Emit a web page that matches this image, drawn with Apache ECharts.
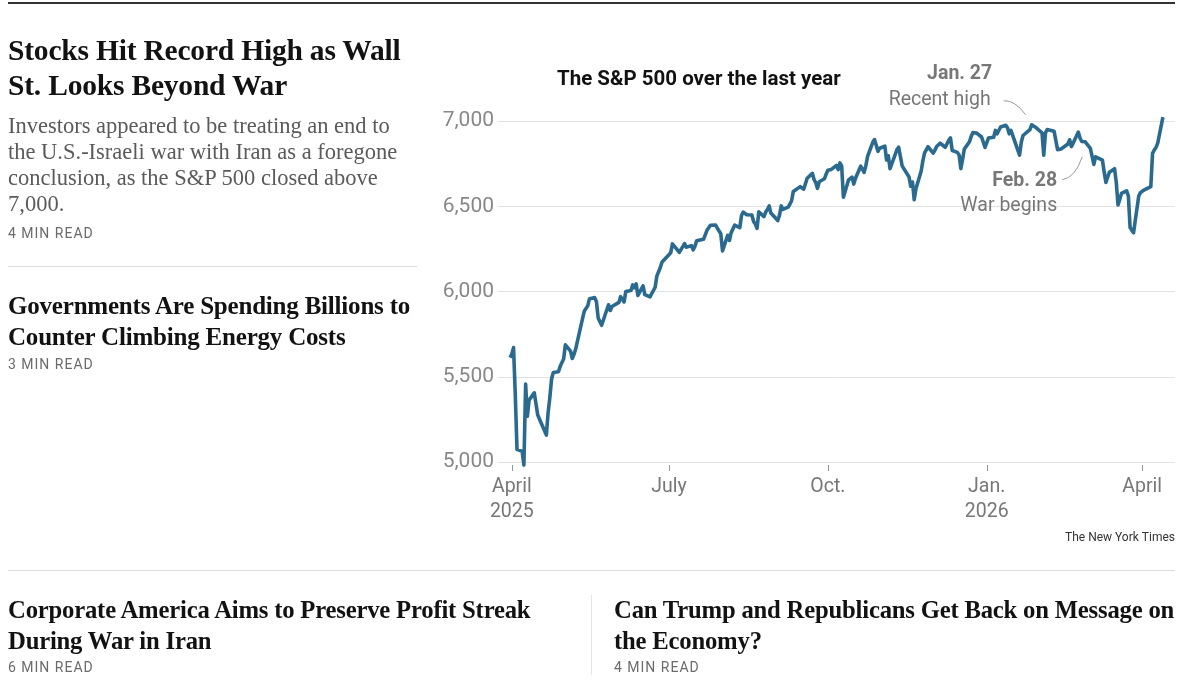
<!DOCTYPE html>
<html>
<head>
<meta charset="utf-8">
<script src="https://cdn.jsdelivr.net/npm/echarts@6/dist/echarts.min.js"></script>
<style>
  html, body { margin: 0; padding: 0; background: #fff; }
  #page { position: relative; width: 1200px; height: 699px; overflow: hidden; }
  #chart { position: absolute; left: 0; top: 0; width: 1200px; height: 699px; }
  .t { position: absolute; white-space: nowrap; pointer-events: none; }
  .hed { font-family: "Liberation Serif", "DejaVu Serif", serif; font-weight: bold; color: #121212; }
  .big { font-size: 29.5px; line-height: 35px; letter-spacing: -0.2px; }
  .mid { font-size: 25px; line-height: 31px; letter-spacing: -0.2px; }
  .mid2 { font-size: 24.7px; line-height: 31px; letter-spacing: -0.2px; }
  .sum { font-family: "Liberation Serif", serif; font-size: 22.5px; line-height: 26px; color: #5a5a5a; }
  .read { font-family: Roboto, "Liberation Sans", sans-serif; font-size: 14px; line-height: 16px; letter-spacing: 1px; color: #6b6b6b; }
  .rule { position: absolute; pointer-events: none; }
</style>
</head>
<body>
<div id="page">
  <div id="chart"></div>

  <div class="rule" style="left:8px;top:2px;width:1167px;height:1.5px;background:#333;"></div>

  <div class="t hed big" style="left:8px;top:33px;">Stocks Hit Record High as Wall<br>St. Looks Beyond War</div>
  <div class="t sum" style="left:8px;top:113px;">Investors appeared to be treating an end to<br>the U.S.-Israeli war with Iran as a foregone<br>conclusion, as the S&amp;P 500 closed above<br>7,000.</div>
  <div class="t read" style="left:8px;top:225px;">4 MIN READ</div>

  <div class="rule" style="left:8px;top:266px;width:409px;height:1px;background:#dcdcdc;"></div>

  <div class="t hed mid" style="left:8px;top:290px;">Governments Are Spending Billions to<br>Counter Climbing Energy Costs</div>
  <div class="t read" style="left:8px;top:356px;">3 MIN READ</div>

  <div class="rule" style="left:8px;top:570px;width:1167px;height:1px;background:#dcdcdc;"></div>
  <div class="rule" style="left:591px;top:595px;width:1px;height:80px;background:#e4e4e4;"></div>

  <div class="t hed mid2" style="left:8px;top:594px;">Corporate America Aims to Preserve Profit Streak<br>During War in Iran</div>
  <div class="t read" style="left:8px;top:659px;">6 MIN READ</div>

  <div class="t hed mid2" style="left:614px;top:594px;">Can Trump and Republicans Get Back on Message on<br>the Economy?</div>
  <div class="t read" style="left:614px;top:659px;">4 MIN READ</div>
</div>

<script>
// S&P 500 daily closes
var dates = [
  '2025-03-31','2025-04-01','2025-04-02','2025-04-03','2025-04-04','2025-04-07','2025-04-08','2025-04-09','2025-04-10','2025-04-11',
  '2025-04-14','2025-04-15','2025-04-16','2025-04-17','2025-04-21','2025-04-22','2025-04-23','2025-04-24','2025-04-25',
  '2025-04-28','2025-04-29','2025-04-30','2025-05-01','2025-05-02','2025-05-05','2025-05-06','2025-05-07','2025-05-08','2025-05-09',
  '2025-05-12','2025-05-13','2025-05-14','2025-05-15','2025-05-16','2025-05-19','2025-05-20','2025-05-21','2025-05-22','2025-05-23',
  '2025-05-27','2025-05-28','2025-05-29','2025-05-30','2025-06-02','2025-06-03','2025-06-04','2025-06-05','2025-06-06',
  '2025-06-09','2025-06-10','2025-06-11','2025-06-12','2025-06-13','2025-06-16','2025-06-17','2025-06-18','2025-06-20',
  '2025-06-23','2025-06-24','2025-06-25','2025-06-26','2025-06-27','2025-06-30','2025-07-01','2025-07-02','2025-07-03',
  '2025-07-07','2025-07-08','2025-07-09','2025-07-10','2025-07-11','2025-07-14','2025-07-15','2025-07-16','2025-07-17','2025-07-18',
  '2025-07-21','2025-07-22','2025-07-23','2025-07-24','2025-07-25','2025-07-28','2025-07-29','2025-07-30','2025-07-31','2025-08-01',
  '2025-08-04','2025-08-05','2025-08-06','2025-08-07','2025-08-08','2025-08-11','2025-08-12','2025-08-13','2025-08-14','2025-08-15',
  '2025-08-18','2025-08-19','2025-08-20','2025-08-21','2025-08-22','2025-08-25','2025-08-26','2025-08-27','2025-08-28','2025-08-29',
  '2025-09-02','2025-09-03','2025-09-04','2025-09-05','2025-09-08','2025-09-09','2025-09-10','2025-09-11','2025-09-12',
  '2025-09-15','2025-09-16','2025-09-17','2025-09-18','2025-09-19','2025-09-22','2025-09-23','2025-09-24','2025-09-25','2025-09-26',
  '2025-09-29','2025-09-30','2025-10-01','2025-10-02','2025-10-03','2025-10-06','2025-10-07','2025-10-08','2025-10-09','2025-10-10',
  '2025-10-13','2025-10-14','2025-10-15','2025-10-16','2025-10-17','2025-10-20','2025-10-21','2025-10-22','2025-10-23','2025-10-24',
  '2025-10-27','2025-10-28','2025-10-29','2025-10-30','2025-10-31','2025-11-03','2025-11-04','2025-11-05','2025-11-06','2025-11-07',
  '2025-11-10','2025-11-11','2025-11-12','2025-11-13','2025-11-14','2025-11-17','2025-11-18','2025-11-19','2025-11-20','2025-11-21',
  '2025-11-24','2025-11-25','2025-11-26','2025-11-28','2025-12-01','2025-12-02','2025-12-03','2025-12-04','2025-12-05',
  '2025-12-08','2025-12-09','2025-12-10','2025-12-11','2025-12-12','2025-12-15','2025-12-16','2025-12-17','2025-12-18','2025-12-19',
  '2025-12-22','2025-12-23','2025-12-24','2025-12-26','2025-12-29','2025-12-30','2025-12-31',
  '2026-01-02','2026-01-05','2026-01-06','2026-01-07','2026-01-08','2026-01-09','2026-01-12','2026-01-13','2026-01-14','2026-01-15','2026-01-16',
  '2026-01-20','2026-01-21','2026-01-22','2026-01-23','2026-01-26','2026-01-27','2026-01-28','2026-01-29','2026-01-30',
  '2026-02-02','2026-02-03','2026-02-04','2026-02-05','2026-02-06','2026-02-09','2026-02-10','2026-02-11','2026-02-12','2026-02-13',
  '2026-02-17','2026-02-18','2026-02-19','2026-02-20','2026-02-23','2026-02-24','2026-02-25','2026-02-26','2026-02-27',
  '2026-03-02','2026-03-03','2026-03-04','2026-03-05','2026-03-06','2026-03-09','2026-03-10','2026-03-11','2026-03-12','2026-03-13',
  '2026-03-16','2026-03-17','2026-03-18','2026-03-19','2026-03-20','2026-03-23','2026-03-24','2026-03-25','2026-03-26','2026-03-27',
  '2026-03-30','2026-03-31','2026-04-01','2026-04-02','2026-04-06','2026-04-07','2026-04-08','2026-04-09','2026-04-10','2026-04-13'
];
var closes = [
  5612,5633,5671,5397,5074,5062,4982,5457,5268,5363,
  5406,5397,5276,5283,5158,5288,5376,5485,5525,
  5529,5561,5569,5604,5687,5650,5607,5631,5664,5660,
  5844,5886,5892,5917,5958,5964,5940,5845,5842,5802,
  5922,5889,5912,5912,5936,5970,5971,5939,6000,
  6006,6039,6022,6045,5977,6033,5982,5981,5968,
  6025,6092,6092,6141,6173,6205,6198,6227,6279,
  6230,6226,6263,6281,6260,6269,6244,6264,6297,6297,
  6306,6309,6359,6363,6389,6390,6371,6362,6339,6238,
  6330,6299,6345,6340,6389,6374,6446,6466,6469,6450,
  6449,6411,6396,6370,6467,6439,6466,6481,6502,6460,
  6416,6448,6502,6482,6495,6512,6532,6587,6584,
  6615,6607,6600,6631,6664,6693,6657,6638,6605,6644,
  6661,6688,6711,6715,6716,6740,6715,6754,6735,6553,
  6655,6644,6671,6630,6664,6735,6735,6699,6738,6792,
  6875,6891,6890,6822,6840,6852,6771,6796,6720,6728,
  6832,6846,6851,6737,6734,6672,6617,6642,6538,6603,
  6705,6766,6813,6849,6812,6829,6850,6857,6870,
  6846,6840,6887,6901,6827,6816,6800,6721,6775,6835,
  6878,6910,6932,6930,6906,6896,6845,
  6900,6905,6945,6925,6935,6965,6975,6960,6925,6945,6940,
  6800,6875,6915,6915,6950,6978,6978,6965,6975,
  6930,6800,6930,6950,6960,6940,6930,6832,6836,6836,
  6865,6890,6850,6870,6935,6900,6880,6877,6878,
  6840,6845,6745,6790,6800,6770,6700,6640,6670,6700,
  6720,6640,6508,6540,6575,6590,6560,6375,6360,6345,
  6560,6580,6590,6595,6615,6810,6830,6845,6870,7023
];

var tickDates = ['2025-04-01','2025-07-01','2025-10-01','2026-01-01','2026-04-01'];
var tickLabels = ['April\n2025','July','Oct.','Jan.\n2026','April'];
var yTicks = [5000, 5500, 6000, 6500, 7000];

function ts(s) {
  var p = s.split('-');
  return new Date(+p[0], p[1] - 1, +p[2]).getTime();
}

var tickTimes = tickDates.map(ts);
var seriesData = dates.map(function (d, i) { return [ts(d), closes[i]]; });

var myChart = echarts.init(document.getElementById('chart'));

var font = 'Roboto, "Liberation Sans", sans-serif';

var option = {
  animation: false,
  title: {
    text: 'The S&P 500 over the last year',
    left: 557,
    top: 69,
    padding: 0,
    textStyle: { fontFamily: font, fontSize: 20.5, fontWeight: 'bold', color: '#121212' }
  },
  grid: { left: 498, right: 25, top: 121, bottom: 237 },
  xAxis: {
    type: 'value',
    min: ts('2025-03-24'),
    max: ts('2026-04-20'),
    offset: 3,
    axisLine: { show: false },
    splitLine: { show: false },
    axisTick: {
      show: true,
      length: 6,
      customValues: tickTimes,
      lineStyle: { color: '#999', width: 1 }
    },
    axisLabel: {
      customValues: tickTimes,
      formatter: function (v) {
        var i = tickTimes.indexOf(v);
        return i >= 0 ? tickLabels[i] : '';
      },
      margin: 10,
      fontFamily: font,
      fontSize: 19.5,
      lineHeight: 25,
      color: '#777'
    }
  },
  yAxis: {
    type: 'value',
    min: yTicks[0],
    max: yTicks[yTicks.length - 1],
    interval: 500,
    axisLine: { show: false },
    axisTick: { show: false },
    splitLine: { lineStyle: { color: '#e2e2e2', width: 1 } },
    axisLabel: {
      margin: 4,
      fontFamily: font,
      fontSize: 21,
      color: '#888',
      formatter: function (v) { return v.toLocaleString('en-US'); }
    }
  },
  series: [
    {
      type: 'line',
      data: seriesData,
      symbol: 'none',
      clip: false,
      lineStyle: { color: '#2b6a8f', width: 3.6, join: 'round' }
    }
  ]
};

myChart.setOption(option);

// annotations anchored to data points
var jan = myChart.convertToPixel({ gridIndex: 0 }, [ts('2026-01-27'), closes[dates.indexOf('2026-01-27')]]);
var feb = myChart.convertToPixel({ gridIndex: 0 }, [ts('2026-02-27'), closes[dates.indexOf('2026-02-27')]]);

var annoBold = { fontFamily: font, fontSize: 19.5, fontWeight: 'bold', fill: '#777' };
var annoReg = { fontFamily: font, fontSize: 19.5, fill: '#777' };

myChart.setOption({
  graphic: [
    { type: 'text', x: jan[0] - 72, y: jan[1] - 51,
      style: Object.assign({ text: 'Jan. 27', align: 'center', verticalAlign: 'middle' }, annoBold) },
    { type: 'text', x: jan[0] - 92, y: jan[1] - 25,
      style: Object.assign({ text: 'Recent high', align: 'center', verticalAlign: 'middle' }, annoReg) },
    { type: 'bezierCurve',
      shape: { x1: jan[0] - 28, y1: jan[1] - 24, cpx1: jan[0] - 17, cpy1: jan[1] - 25, x2: jan[0] - 6, y2: jan[1] - 10 },
      style: { stroke: '#999', lineWidth: 1, fill: null } },
    { type: 'text', x: feb[0] - 28, y: feb[1] + 39,
      style: Object.assign({ text: 'Feb. 28', align: 'right', verticalAlign: 'middle' }, annoBold) },
    { type: 'text', x: feb[0] - 28, y: feb[1] + 64,
      style: Object.assign({ text: 'War begins', align: 'right', verticalAlign: 'middle' }, annoReg) },
    { type: 'bezierCurve',
      shape: { x1: feb[0] - 23, y1: feb[1] + 38, cpx1: feb[0] - 10, cpy1: feb[1] + 36, x2: feb[0] - 3, y2: feb[1] + 15 },
      style: { stroke: '#999', lineWidth: 1, fill: null } },
    { type: 'text', right: 25, top: 532,
      style: { text: 'The New York Times', fontFamily: font, fontSize: 12, fill: '#333' } }
  ]
});
</script>
</body>
</html>
